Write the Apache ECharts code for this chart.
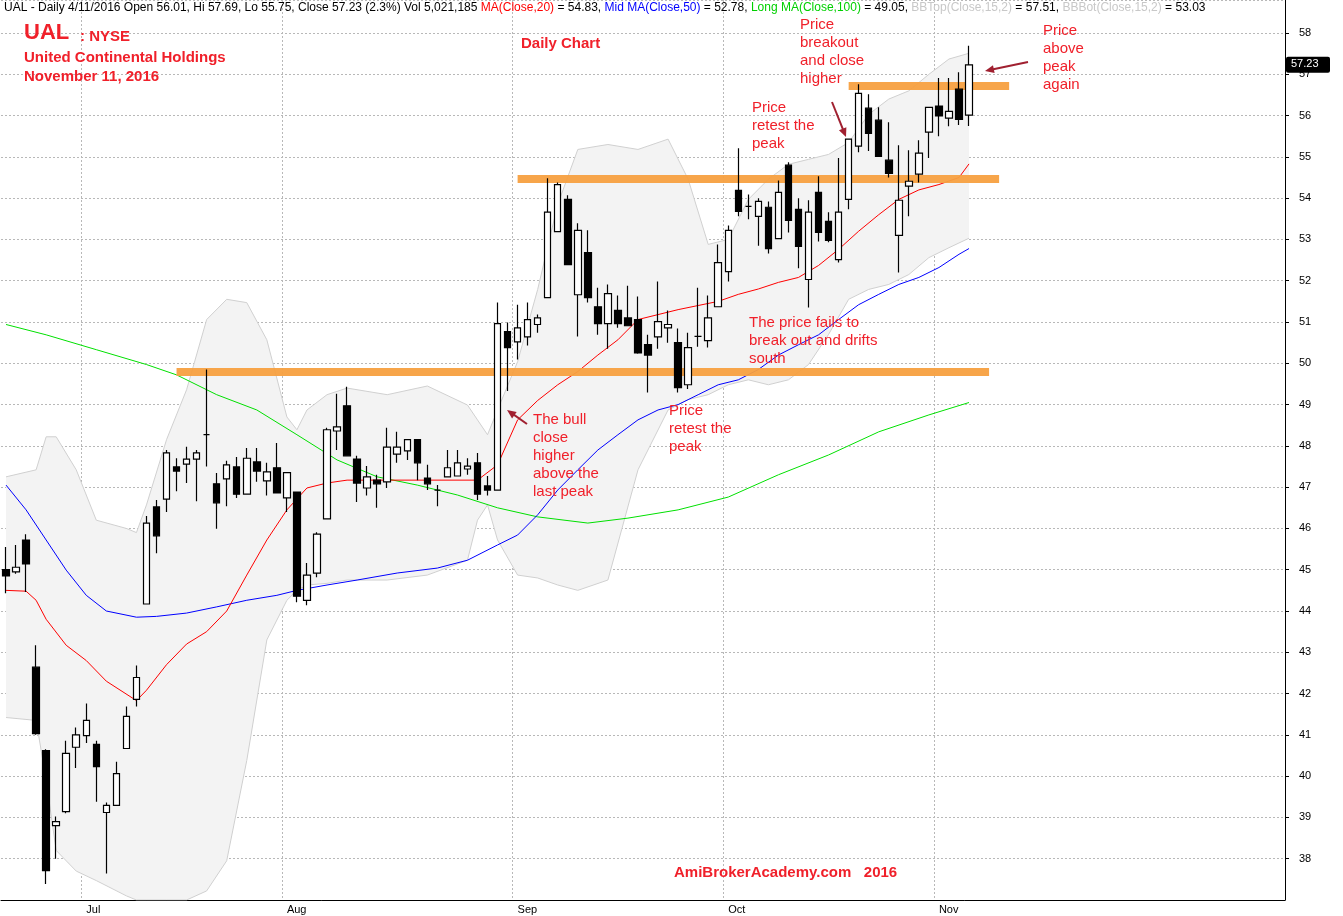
<!DOCTYPE html>
<html><head><meta charset="utf-8">
<script src="https://cdn.jsdelivr.net/npm/echarts@6/dist/echarts.min.js"></script>
<style>html,body{margin:0;padding:0;background:#fff}#c{width:1343px;height:916px}</style>
</head><body><div id="c"></div>
<script>
const opens=[45.0,44.95,45.72,42.64,40.62,38.8,39.14,40.7,40.98,40.77,39.12,39.29,40.67,41.86,44.17,46.52,46.71,47.49,47.56,47.68,48.27,47.08,47.2,47.49,46.83,47.61,47.15,47.47,46.74,46.88,44.26,44.92,46.23,48.36,48.97,47.68,46.98,47.17,47.13,47.8,47.88,48.15,47.22,46.93,47.25,47.27,47.44,47.59,47.03,46.93,50.77,50.52,50.64,50.94,51.59,53.19,53.97,51.66,52.68,51.37,50.96,51.28,51.1,51.06,50.45,50.64,50.86,50.5,49.48,50.65,50.55,51.37,52.22,54.19,53.8,53.56,53.78,53.02,54.8,53.73,52.03,54.14,53.44,52.51,53.97,55.26,56.18,55.89,54.92,53.1,54.29,54.58,55.6,56.23,55.94,56.64,56.01];
const closes=[44.85,45.06,45.14,41.03,37.71,38.9,40.55,41.0,41.35,40.23,39.29,40.06,41.45,42.39,46.13,45.82,47.83,47.39,47.68,47.83,48.27,46.62,47.54,46.83,47.7,47.39,47.37,46.86,47.35,44.36,44.87,45.86,48.39,48.46,47.76,47.1,47.25,47.08,47.97,47.97,48.15,47.59,47.08,46.93,47.47,47.59,47.51,46.83,46.93,50.96,50.38,50.86,51.06,51.1,53.66,54.33,52.39,53.22,51.59,50.96,51.69,50.96,50.91,50.25,50.2,51.01,50.94,49.41,50.38,50.65,51.1,52.44,53.22,53.68,53.8,53.92,52.78,54.14,53.46,52.83,53.66,53.17,52.98,53.66,55.43,56.54,55.57,55.01,54.6,53.95,54.41,55.09,56.2,55.99,56.1,55.91,57.23];
const lows=[44.43,44.9,44.46,41.0,37.39,38.0,39.1,40.2,40.8,39.38,37.64,39.29,40.67,41.69,44.17,45.4,46.4,46.9,47.1,46.66,47.5,45.99,46.54,46.74,46.83,47.13,46.8,46.86,46.4,44.21,44.14,44.82,46.23,47.9,47.76,46.64,46.8,46.5,46.98,47.59,47.66,47.17,46.93,46.54,47.25,47.27,47.3,46.69,46.8,46.93,49.33,50.09,50.43,50.74,51.59,53.19,52.39,50.65,51.47,50.69,50.35,50.86,50.91,50.23,49.29,50.35,50.5,49.29,49.38,50.4,50.38,51.37,51.98,53.56,53.49,52.85,52.66,53.02,53.17,52.3,51.35,52.95,52.93,52.44,53.73,55.11,55.14,55.01,54.5,52.2,53.56,54.38,54.97,55.5,55.74,55.77,55.75];
const highs=[45.55,45.6,45.86,43.17,40.65,39.02,40.86,41.18,41.76,40.86,39.36,40.35,41.69,42.68,46.3,46.69,47.9,47.7,47.98,47.9,49.85,47.34,47.64,47.73,47.95,47.95,47.59,48.07,47.35,46.88,45.16,45.91,48.44,49.26,49.43,47.76,47.51,47.3,48.44,48.34,48.15,48.15,47.54,47.05,47.9,47.9,47.7,47.83,47.27,51.47,50.99,51.42,51.47,51.18,54.48,54.38,54.07,53.39,53.22,51.83,51.91,51.64,51.88,51.62,50.69,51.98,51.28,50.84,50.74,51.83,51.64,52.88,53.34,55.21,54.09,54.0,53.92,54.43,54.87,54.0,53.95,54.53,53.66,54.97,55.43,56.76,56.52,56.2,55.84,55.28,55.16,55.4,56.2,56.91,56.91,57.05,57.69];
const ma20=[[0,44.5],[2,44.48],[3,44.26],[4,43.8],[6,43.17],[8,42.8],[10,42.3],[13,41.83],[14,42.08],[16,42.7],[18,43.2],[20,43.5],[22,44.0],[24,44.87],[26,45.72],[28,46.45],[30,46.98],[32,47.1],[34,47.17],[47,47.17],[49,47.54],[51,48.63],[53,49.1],[55,49.48],[57,49.8],[59,50.2],[61,50.57],[63,51.06],[65,51.18],[67,51.3],[69,51.4],[71,51.5],[73,51.67],[75,51.8],[77,51.96],[79,52.08],[81,52.37],[83,52.76],[85,53.2],[87,53.6],[89,53.97],[91,54.2],[93,54.33],[95,54.5],[96,54.83]];
const ma50=[[0,47.05],[2,46.45],[4,45.72],[6,44.99],[8,44.38],[10,44.0],[13,43.85],[15,43.87],[18,43.95],[21,44.1],[24,44.26],[27,44.38],[29,44.5],[32,44.63],[35,44.75],[39,44.92],[43,45.04],[46,45.23],[49,45.6],[51,45.84],[53,46.33],[55,46.93],[57,47.42],[59,47.9],[61,48.27],[63,48.63],[65,48.87],[67,49.0],[69,49.24],[71,49.48],[73,49.6],[75,49.85],[77,50.2],[79,50.45],[81,50.69],[83,51.06],[85,51.42],[87,51.67],[89,51.91],[91,52.08],[93,52.32],[95,52.64],[96,52.78]];
const ma100=[[0,50.94],[4,50.69],[9,50.33],[14,49.97],[17,49.72],[21,49.24],[25,48.87],[29,48.27],[33,47.66],[37,47.25],[41,47.05],[45,46.81],[49,46.5],[53,46.28],[58,46.13],[62,46.25],[67,46.45],[72,46.76],[77,47.3],[82,47.78],[87,48.34],[92,48.75],[96,49.05]];
const bbIdx=[0,3,4,5,7,9,12,13,14,16,18,20,22,24,26,28,29,30,32,34,38,42,46,47,48,49,51,53,55,57,60,63,66,68,70,72,74,76,78,80,82,84,86,88,90,92,94,96];
const bbTop=[47.25,47.42,48.22,48.22,47.42,46.2,46.0,45.9,46.57,48.15,49.36,51.06,51.55,51.47,50.57,48.7,48.39,48.87,49.24,49.4,49.24,49.45,48.99,48.63,48.27,48.87,50.04,51.79,53.85,55.18,55.3,55.18,55.43,54.46,52.88,53.0,53.97,54.46,54.82,54.94,55.06,55.35,56.03,56.4,56.6,57.0,57.37,57.51];
const bbBot=[41.42,41.35,39.9,38.2,37.7,37.47,37.1,37.0,37.0,37.0,37.0,37.22,37.95,40.38,43.3,44.26,44.5,44.63,44.67,44.75,44.75,44.87,45.23,46.2,46.57,45.72,44.87,44.8,44.63,44.5,44.75,47.42,48.87,49.12,49.24,49.48,49.6,49.48,49.6,49.97,50.7,51.55,51.79,51.91,52.15,52.56,52.8,53.03];
const monthIdx={8:'Jul',28:'Aug',51:'Sep',72:'Oct',93:'Nov'};
const levels=[{v:49.8,a:17,b:98},{v:54.47,a:51,b:99},{v:56.73,a:84,b:100}];
const NCAT=128;

const cats=[];for(let i=0;i<NCAT;i++)cats.push(String(i));
const candle=opens.map((o,i)=>[o,closes[i],lows[i],highs[i]]);
const chart=echarts.init(document.getElementById('c'));
const F='Liberation Sans, Arial, sans-serif';
const red='#f0202a';
chart.setOption({
 animation:false,
 textStyle:{fontFamily:F},
 grid:{left:1,right:58,top:0,bottom:16},
 xAxis:{type:'category',data:cats,boundaryGap:true,
  axisLine:{lineStyle:{color:'#000'}},
  axisTick:{show:false},
  axisLabel:{interval:(i)=>monthIdx[i]!==undefined,formatter:(v)=>monthIdx[v]||'',color:'#000',fontSize:11,align:'left',margin:4},
  splitLine:{show:true,interval:(i)=>monthIdx[i]!==undefined,lineStyle:{color:'#b8b8b8',type:[2,2]}}},
 yAxis:{type:'value',position:'right',min:37,max:58.8,interval:1,
  axisLine:{show:true,lineStyle:{color:'#000'}},axisTick:{show:true,length:4,lineStyle:{color:'#000'}},
  axisLabel:{color:'#000',fontSize:11,margin:14,showMinLabel:false,showMaxLabel:false},
  splitLine:{lineStyle:{color:'#b8b8b8',type:[2,2]}}},
 series:[
  {type:'line',data:bbIdx.map((x,i)=>[x,bbBot[i]]),stack:'bb',symbol:'none',lineStyle:{color:'#d0d0d0',width:1},z:1},
  {type:'line',data:bbIdx.map((x,i)=>[x,+(bbTop[i]-bbBot[i]).toFixed(2)]),stack:'bb',symbol:'none',lineStyle:{color:'#d0d0d0',width:1},areaStyle:{color:'#f3f3f3',opacity:1},z:1},
  {type:'line',data:ma100,symbol:'none',lineStyle:{color:'#00e000',width:1},z:2},
  {type:'line',data:ma50,symbol:'none',lineStyle:{color:'#0000ff',width:1},z:2},
  {type:'line',data:ma20,symbol:'none',lineStyle:{color:'#ff0000',width:1},z:2},
  {type:'candlestick',data:candle,barWidth:7,z:4,
   itemStyle:{color:'#fff',color0:'#000',borderColor:'#000',borderColor0:'#000',borderWidth:1.2},
   markLine:{symbol:'none',silent:true,label:{show:false},z:3,
    lineStyle:{color:'#f7a040',width:8,type:'solid',opacity:0.95},
    data:levels.map(l=>[{coord:[String(l.a),l.v]},{coord:[String(l.b),l.v]}])}}
 ]
});
const py=chart.convertToPixel({yAxisIndex:0},57.23);
const t=(x,y,s,o)=>({type:'text',z:100,left:x,top:y,style:Object.assign({text:s,fill:red,font:'15px '+F,lineHeight:18},o||{})});
const arrow=(x1,y1,x2,y2)=>{const a=Math.atan2(y2-y1,x2-x1),L=9,W=4;
 return [{type:'line',z:100,shape:{x1,y1,x2:x2-Math.cos(a)*6,y2:y2-Math.sin(a)*6},style:{stroke:'#a02030',lineWidth:2}},
 {type:'polygon',z:100,shape:{points:[[x2,y2],[x2-L*Math.cos(a)+W*Math.sin(a),y2-L*Math.sin(a)-W*Math.cos(a)],[x2-L*Math.cos(a)-W*Math.sin(a),y2-L*Math.sin(a)+W*Math.cos(a)]]},style:{fill:'#a02030'}}];};
chart.setOption({graphic:[
 {type:'text',z:100,left:4,top:2,style:{font:'12px '+F,fill:'#000',
  text:'UAL - Daily 4/11/2016 Open 56.01, Hi 57.69, Lo 55.75, Close 57.23 (2.3%) Vol 5,021,185 {r|MA(Close,20)} = 54.83, {b|Mid MA(Close,50)} = 52.78, {g|Long MA(Close,100)} = 49.05, {l|BBTop(Close,15,2)} = 57.51, {l|BBBot(Close,15,2)} = 53.03',
  rich:{r:{fill:'#ff0000',font:'12px '+F},b:{fill:'#0000ff',font:'12px '+F},g:{fill:'#00d000',font:'12px '+F},l:{fill:'#c8c8c8',font:'12px '+F}}}},
 t(24,22,'UAL',{font:'bold 22px '+F}),
 t(80,28,': NYSE',{font:'bold 15px '+F}),
 t(24,49,'United Continental Holdings',{font:'bold 15px '+F}),
 t(24,68,'November 11, 2016',{font:'bold 15px '+F}),
 t(521,35,'Daily Chart',{font:'bold 15px '+F}),
 t(800,16,'Price\nbreakout\nand close\nhigher'),
 t(1043,22,'Price\nabove\npeak\nagain'),
 t(752,99,'Price\nretest the\npeak'),
 t(749,314,'The price fails to\nbreak out and drifts\nsouth'),
 t(669,402,'Price\nretest the\npeak'),
 t(533,411,'The bull\nclose\nhigher\nabove the\nlast peak'),
 t(674,864,'AmiBrokerAcademy.com   2016',{font:'bold 15px '+F}),
 ...arrow(527,424,507,410),...arrow(832,102,846,137),...arrow(1028,62,985,71),
 {type:'rect',z:100,shape:{x:1286,y:py-8,width:44,height:16,r:2},style:{fill:'#000'}},
 {type:'text',z:101,left:1291,top:py-6,style:{text:'57.23',fill:'#fff',font:'11px '+F}}
]});
</script></body></html>
